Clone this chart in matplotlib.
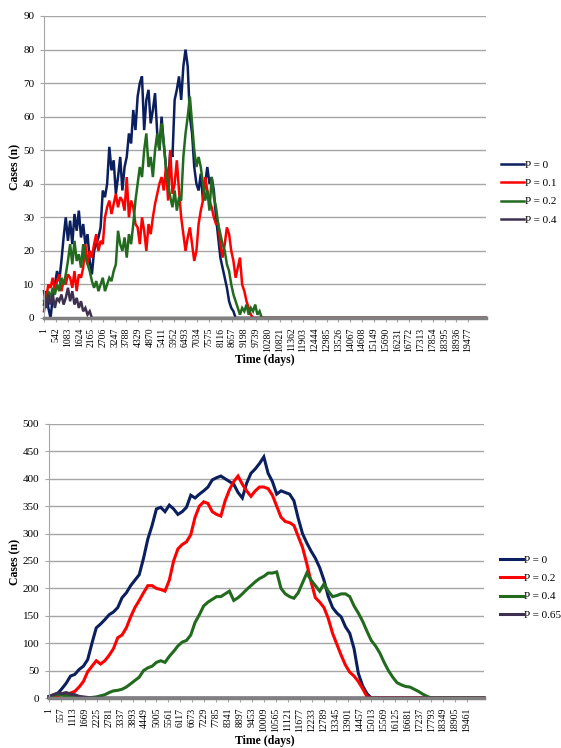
import numpy as np
import matplotlib
matplotlib.use("Agg")
import matplotlib.pyplot as plt

plt.rcParams['font.family'] = ['Liberation Serif', 'DejaVu Serif']

# ---------------- Top chart data (sampled every 100 days from day 1) ----------------
top_step = 100
top_p0 = [4, 8, 3, 0, 6, 10, 14, 11, 17, 24, 30, 23, 29, 22, 31, 26, 32, 24, 28, 22,
          25, 17, 13, 20, 22, 24, 27, 38, 36, 40, 51, 44, 47, 37, 42, 48, 38, 45, 48, 55,
          52, 62, 56, 66, 70, 72, 56, 65, 68, 58, 62, 67, 55, 50, 60, 52, 45, 40, 50, 48,
          65, 68, 72, 65, 75, 80, 75, 60, 55, 45, 40, 38, 43, 35, 40, 45, 40, 42, 38, 30,
          24, 18, 15, 12, 9, 5, 3, 2, 0]
top_p01 = [2, 6, 10, 9, 12, 8, 11, 13, 8, 11, 10, 13, 12, 9, 14, 8, 13, 12, 15, 22,
           16, 20, 18, 22, 25, 20, 23, 22, 30, 33, 35, 31, 34, 37, 33, 36, 35, 32, 42, 30,
           35, 33, 28, 27, 22, 30, 26, 20, 28, 25, 30, 34, 37, 40, 42, 38, 45, 35, 50, 37,
           40, 47, 38, 30, 25, 20, 24, 27, 22, 17, 20, 28, 32, 35, 42, 38, 35, 33, 30, 28,
           28, 22, 18, 22, 27, 25, 20, 17, 12, 15, 18, 10, 8, 5, 3, 1, 0]
top_p02 = [5, 3, 8, 6, 9, 7, 10, 8, 12, 10, 13, 17, 22, 16, 23, 17, 19, 15, 22, 18,
           16, 14, 11, 9, 11, 8, 10, 12, 8, 10, 12, 11, 14, 16, 26, 22, 20, 24, 18, 25,
           22, 28, 35, 40, 45, 42, 50, 55, 45, 48, 42, 50, 55, 50, 58, 52, 45, 40, 36, 33,
           38, 32, 36, 35, 48, 55, 60, 66, 58, 50, 45, 48, 45, 40, 35, 38, 32, 42, 36, 33,
           28, 25, 22, 20, 16, 14, 10, 7, 5, 3, 1, 3, 2, 4, 1, 3, 2, 4, 1, 2, 0]
top_p04 = [8, 3, 7, 4, 7, 3, 6, 5, 7, 4, 6, 9, 5, 8, 4, 6, 3, 5, 2, 3, 1, 2, 0]
top_labels = ["P = 0", "P = 0.1", "P = 0.2", "P = 0.4"]
top_tick_step = 541
top_last_tick = 19477
top_xmax = 20300

# ---------------- Bottom chart data (sampled every 200 days from day 1) ----------------
bot_step = 200
bot_p0 = [0, 3, 8, 17, 27, 40, 43, 52, 58, 70, 100, 128, 135, 143, 152, 157, 165, 183, 192, 205,
          215, 225, 255, 290, 315, 345, 348, 340, 352, 345, 335, 340, 348, 370, 365, 372, 378, 385, 398, 402,
          405, 400, 395, 390, 375, 365, 392, 410, 418, 428, 440, 410, 395, 372, 378, 375, 372, 360, 328, 300,
          283, 268, 255, 238, 215, 185, 165, 155, 148, 130, 118, 90, 45, 22, 8, 0]
bot_p02 = [0, 2, 4, 6, 7, 9, 12, 20, 30, 48, 58, 68, 62, 68, 78, 90, 110, 115, 128, 148,
           165, 178, 192, 205, 205, 200, 198, 195, 215, 250, 272, 280, 285, 298, 330, 350, 358, 355, 340, 335,
           332, 360, 380, 395, 405, 390, 378, 368, 378, 385, 385, 382, 370, 350, 330, 322, 320, 315, 295, 275,
           245, 212, 183, 175, 165, 145, 118, 98, 78, 60, 47, 40, 30, 17, 3, 0]
bot_p04 = [3, 5, 6, 5, 4, 3, 2, 1, 0, 0, 1, 2, 4, 6, 10, 13, 14, 16, 20, 26,
           32, 38, 50, 55, 58, 65, 68, 65, 76, 85, 95, 102, 105, 115, 138, 152, 168, 175, 180, 185,
           185, 190, 195, 178, 183, 190, 198, 205, 212, 218, 222, 228, 228, 230, 200, 190, 185, 182, 192, 210,
           228, 215, 205, 195, 208, 195, 185, 187, 190, 190, 185, 168, 155, 140, 122, 105, 95, 82, 65, 50,
           38, 28, 24, 21, 20, 16, 12, 7, 3, 0]
bot_p065 = [3, 6, 9, 8, 10, 7, 6, 3, 2, 1, 0]
bot_labels = ["P = 0", "P = 0.2", "P = 0.4", "P = 0.65"]
bot_tick_step = 556
bot_last_tick = 19461
bot_xmax = 20250

colors = ["#0B1F5E", "#FF0000", "#226B1E", "#3E3150"]
grid_c = "#A6A6A6"

W, H = 561, 748
fig = plt.figure(figsize=(W / 100, H / 100), dpi=100)


def draw(ax, series, labels, step, xmax, tick_step, last_tick, ymax, ystep, lw):
    handles = []
    for vals, lab, c in zip(series, labels, colors):
        x = list(1 + step * np.arange(len(vals))) + [xmax]
        y = list(vals) + [0]
        h, = ax.plot(x, y, color=c, lw=lw, label=lab, solid_joinstyle='miter', clip_on=False)
        handles.append(h)
    ax.set_xlim(1, xmax)
    ax.set_ylim(0, ymax)
    ax.set_yticks(np.arange(0, ymax + 1, ystep))
    ticks = np.arange(1, last_tick + 1, tick_step)
    ax.set_xticks(ticks)
    ax.set_xticklabels([str(t) for t in ticks], rotation=90, fontsize=7)
    ax.tick_params(axis='y', labelsize=8, length=3, color=grid_c, pad=4)
    ax.tick_params(axis='x', length=3, color=grid_c, pad=4)
    ax.grid(axis='y', color=grid_c, lw=1)
    ax.set_axisbelow(True)
    for s in ['top', 'right']:
        ax.spines[s].set_visible(False)
    ax.spines['left'].set_color(grid_c)
    ax.spines['bottom'].set_color('#808080')
    ax.spines['bottom'].set_linewidth(2.5)
    return handles


leg_kw = dict(loc='upper left', frameon=False, fontsize=8, handlelength=2.0,
              handletextpad=0.15, labelspacing=0.75, borderaxespad=0)

ax1 = fig.add_axes([44 / W, 1 - 318 / H, (486 - 44) / W, (318 - 16) / H])
h1 = draw(ax1, [top_p0, top_p01, top_p02, top_p04], top_labels, top_step, top_xmax,
          top_tick_step, top_last_tick, 90, 10, 1.8)
fig.legend(handles=h1, labels=top_labels, bbox_to_anchor=(497 / W, 1 - 156 / H), **leg_kw)
fig.text(265 / W, 1 - 360 / H, "Time (days)", ha='center', va='center', fontweight='bold', fontsize=8.5)
fig.text(15 / W, 1 - 167 / H, "Cases (n)", ha='center', va='center', rotation=90,
         fontweight='bold', fontsize=8.5)

ax2 = fig.add_axes([49 / W, 1 - 698 / H, (484 - 49) / W, (698 - 424) / H])
h2 = draw(ax2, [bot_p0, bot_p02, bot_p04, bot_p065], bot_labels, bot_step, bot_xmax,
          bot_tick_step, bot_last_tick, 500, 50, 2.2)
fig.legend(handles=h2, labels=bot_labels, bbox_to_anchor=(496 / W, 1 - 551 / H), **leg_kw)
fig.text(265 / W, 1 - 741 / H, "Time (days)", ha='center', va='center', fontweight='bold', fontsize=8.5)
fig.text(15 / W, 1 - 562 / H, "Cases (n)", ha='center', va='center', rotation=90,
         fontweight='bold', fontsize=8.5)

fig.savefig("out.png", dpi=100)
